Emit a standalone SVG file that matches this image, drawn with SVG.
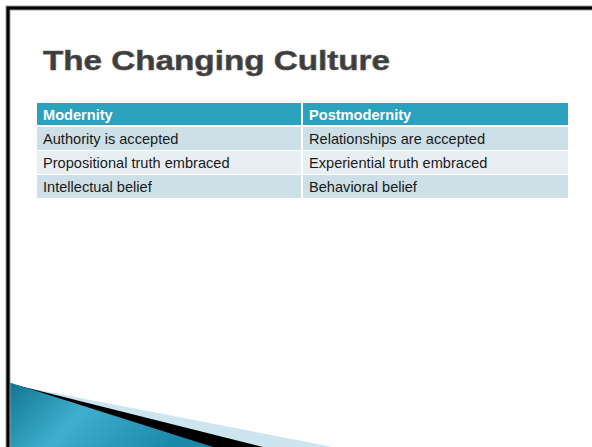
<svg xmlns="http://www.w3.org/2000/svg" width="592" height="447" viewBox="0 0 592 447">
<style>
.title{font-family:"Liberation Sans",Arial,sans-serif;font-weight:bold;font-size:28px;fill:#3d3d3d;stroke:#5a5a5a;stroke-width:0.6}
.hd{font-family:"Liberation Sans",Arial,sans-serif;font-weight:bold;font-size:14.6px;fill:#ffffff}
.cell{font-family:"Liberation Sans",Arial,sans-serif;font-size:14.6px;fill:#1a1a1a}
.h{fill:#2aa2be}
.r1{fill:#cddfe7}
.r2{fill:#e8eff3}
</style>
<defs>
<linearGradient id="teal" x1="0" y1="0" x2="1" y2="0.3">
<stop offset="0" stop-color="#0f7590"/>
<stop offset="0.45" stop-color="#3faecf"/>
<stop offset="1" stop-color="#1a88a8"/>
</linearGradient>
</defs>
<rect x="0" y="0" width="592" height="447" fill="#ffffff"/>
<g id="swoosh">
<polygon points="8,384 333,447 8,447" fill="#cde5ee"/>
<polygon points="8,383 263,447 8,447" fill="#000000"/>
<polygon points="8,382 213,447 8,447" fill="url(#teal)"/>
</g>
<g id="frame">
<rect x="8" y="8" width="640" height="480" fill="none" stroke="#9a9a9a" stroke-width="5"/>
<rect x="8" y="8" width="640" height="480" fill="none" stroke="#000000" stroke-width="3"/>
</g>
<g id="title">
<text class="title" x="43" y="70" textLength="347" lengthAdjust="spacingAndGlyphs">The Changing Culture</text>
</g>
<g id="table">
<rect class="h" x="37" y="103" width="264" height="22"/>
<rect class="h" x="303" y="103" width="265" height="22"/>
<rect class="r1" x="37" y="127" width="264" height="23"/>
<rect class="r1" x="303" y="127" width="265" height="23"/>
<rect class="r2" x="37" y="151" width="264" height="23"/>
<rect class="r2" x="303" y="151" width="265" height="23"/>
<rect class="r1" x="37" y="175" width="264" height="23"/>
<rect class="r1" x="303" y="175" width="265" height="23"/>
<text class="hd" x="43" y="120">Modernity</text>
<text class="hd" x="309" y="120">Postmodernity</text>
<text class="cell" x="43" y="144">Authority is accepted</text>
<text class="cell" x="309" y="144">Relationships are accepted</text>
<text class="cell" x="43" y="168">Propositional truth embraced</text>
<text class="cell" x="309" y="168">Experiential truth embraced</text>
<text class="cell" x="43" y="192">Intellectual belief</text>
<text class="cell" x="309" y="192">Behavioral belief</text>
</g>
</svg>
